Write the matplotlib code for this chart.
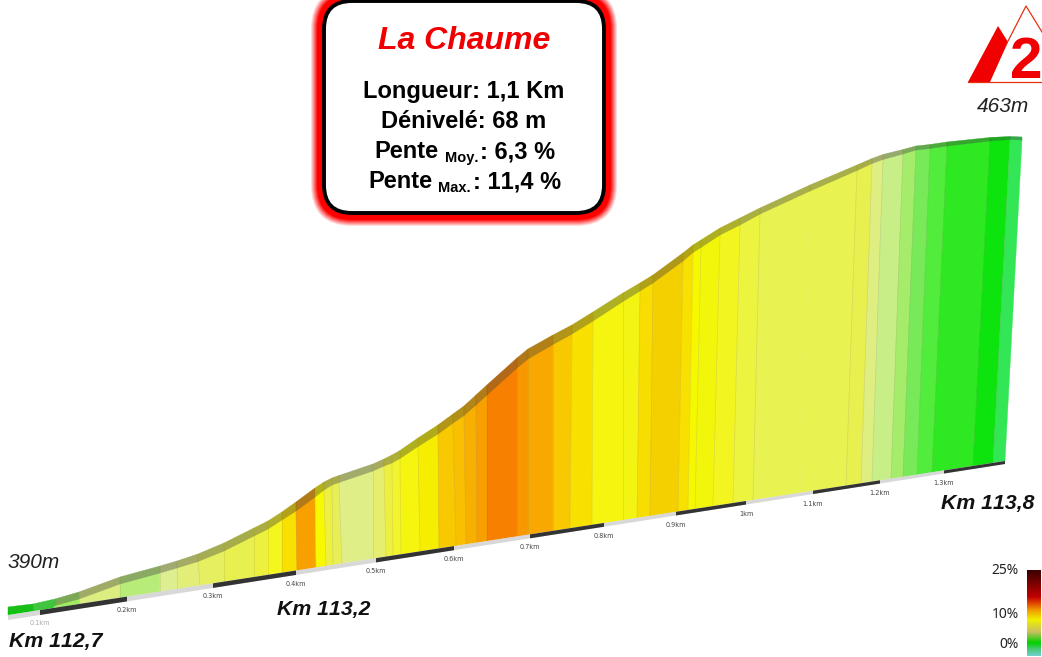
import numpy as np
import matplotlib
matplotlib.use('Agg')
import matplotlib.pyplot as plt
from matplotlib.patches import FancyBboxPatch, Polygon
from matplotlib.colors import LinearSegmentedColormap, to_rgb

plt.rcParams['font.family'] = ['Liberation Sans', 'DejaVu Sans']
plt.rcParams['text.kerning_factor'] = 6

# profile (image pixels), one entry per slope change
edge_top_x = [8, 33, 55, 79, 120, 160, 177, 198, 224, 254, 268, 282, 296, 315, 324, 332, 339, 373,
              384, 392, 400, 418, 438, 453, 464, 476, 487, 517, 528, 553, 572, 593, 623, 640, 653,
              683, 693, 701, 720, 740, 760, 810, 857, 872, 883, 903, 916, 930, 947, 990, 1010, 1022]
edge_base_x = [8, 33, 53, 79, 120, 160, 177, 200, 224, 254, 268, 282, 297, 316, 326, 333, 342, 373,
               386, 393, 401, 420, 439, 456, 466, 477, 487, 517, 528, 553, 570, 592, 623, 637, 650,
               678, 688, 695, 713, 733, 753, 800, 846, 861, 872, 891, 903, 917, 932, 973, 993, 1005]
edge_top_y = [607, 604, 599, 592, 577, 566, 561, 554, 543, 528, 521, 512, 502, 488, 482, 478, 475.5, 464,
              459, 455, 450.5, 438, 425, 414, 406, 395, 385, 358, 349, 335, 325, 312, 293, 283, 275,
              253, 245, 240, 228, 218, 208, 185, 165, 158.5, 154.5, 149.5, 146, 144.5, 142, 137.5, 136.5, 137]
edge_band = [6, 6, 6.5, 7, 7, 7, 7, 7.5, 8, 8, 8, 8, 9, 9, 8, 7, 7, 7,
             7, 8, 8, 8.5, 9, 9, 9.5, 10, 10, 10, 10, 9.5, 9, 9, 8.5, 8, 8,
             8, 7.5, 7.5, 7, 7, 6, 6, 5.5, 5, 5, 4.5, 4, 4, 4, 3.5, 3, 3]
seg_colors = ['#00c800', '#30d030', '#a0ea60', '#dcee80', '#b8ec78', '#dcee90', '#e2ee78', '#e5ef60',
              '#e8f050', '#eef040', '#f5f520', '#f8e000', '#f8a000', '#f8f800', '#eef040', '#e8ee55',
              '#e0ee88', '#e6ee70', '#eef040', '#f2f430', '#f5f510', '#f5ee00', '#f8c800', '#f8c000',
              '#f8b000', '#f8a000', '#f88000', '#f89800', '#f8a800', '#f8c800', '#f8e000', '#f5f510',
              '#f4f412', '#f8de00', '#f4d000', '#f8e000', '#f6f800', '#f2f60a', '#f2f520', '#ecf440',
              '#e8f250', '#e8f250', '#e8f050', '#dfee80', '#c8ee88', '#a5ec6a', '#78ea5a', '#52ec3c', '#2ee822',
              '#0de30d', '#33e655']

# road baseline
base_ends_x = [8, 1005]
base_ends_y = [615, 461]
strip_ends = [5, 3]

# kilometre marks
tick_x = [40, 127, 213, 296, 376, 454, 530, 604, 676, 746, 813, 880, 944]
tick_labels = ['0.1km', '0.2km', '0.3km', '0.4km', '0.5km', '0.6km', '0.7km', '0.8km',
               '0.9km', '1km', '1.1km', '1.2km', '1.3km']

# colour scale
scale_colors = ['#3a0000', '#c00000', '#e04000', '#f0a000', '#f0f000', '#c8c060', '#00d000', '#50c880', '#70d0d0']
scale_stops = [0, 0.31, 0.38, 0.47, 0.58, 0.72, 0.85, 0.93, 1]
scale_labels = ['25%', '10%', '0%']
scale_label_y = [570, 614, 644]


def base_y(x):
    return np.interp(x, base_ends_x, base_ends_y)


def strip(x0, x1, color):
    xs = np.array([x0, x1])
    th = np.interp(xs, base_ends_x, strip_ends)
    ax.add_patch(Polygon([(x0, base_y(x0)), (x1, base_y(x1)), (x1, base_y(x1) + th[1]), (x0, base_y(x0) + th[0])],
                         closed=True, fc=color, ec='none', zorder=3))


fig = plt.figure(figsize=(10.42, 6.57), dpi=100)
ax = fig.add_axes([0, 0, 1, 1])
ax.set_xlim(0, 1042)
ax.set_ylim(657, 0)
ax.axis('off')

# profile body and road surface
for i, c in enumerate(seg_colors):
    x0, x1 = edge_top_x[i], edge_top_x[i + 1]
    y0, y1 = edge_top_y[i], edge_top_y[i + 1]
    b0, b1 = edge_band[i], edge_band[i + 1]
    g0, g1 = edge_base_x[i], edge_base_x[i + 1]
    ax.fill([x0, x1, g1, g0], [y0 + b0, y1 + b1, base_y(g1), base_y(g0)], fc=c, ec=c, lw=0.3, zorder=1)
    f = 0.92 if i < 2 else 0.68
    dark = tuple(f * v for v in to_rgb(c))
    ax.fill([x0, x1, x1, x0], [y0, y1, y1 + b1, y0 + b0], fc=dark, ec=dark, lw=0.3, alpha=0.9, zorder=2)
    if i > 0 and c != seg_colors[i - 1]:
        ax.plot([x0, g0], [y0 + b0, base_y(g0)], color='#807040', lw=0.5, alpha=0.2, zorder=2)

# baseline strip, alternating
strip(base_ends_x[0], base_ends_x[1], '#d8d8d8')
for a, b in zip(tick_x[0::2], tick_x[1::2]):
    strip(a, b, '#333333')
strip(tick_x[-1], base_ends_x[1], '#333333')

for i, (x, lab) in enumerate(zip(tick_x, tick_labels)):
    ax.text(x, base_y(x) + 13, lab, fontsize=4.7, ha='center', va='center',
            family='DejaVu Sans', color='#aaaaaa' if i == 0 else '#444444', zorder=4)

# info box with red glow
box_x, box_y, box_w, box_h = 324, 1, 280, 212
for grow in np.arange(14, 0, -1.0):
    t = min(1, (14 - grow) / 7.0)
    col = (1, 1 - t, 1 - t)
    ax.add_patch(FancyBboxPatch((box_x - grow, box_y - grow), box_w + 2 * grow, box_h + 2 * grow,
                                boxstyle='round,pad=0,rounding_size=%g' % (28 + grow),
                                fc=col, ec='none', zorder=5))
ax.add_patch(FancyBboxPatch((box_x, box_y), box_w, box_h, boxstyle='round,pad=0,rounding_size=28',
                            fc='white', ec='black', lw=2.8, zorder=6))

ax.text(464, 49, 'La Chaume', color='#f00000', fontsize=23, style='italic', weight='bold',
        ha='center', va='baseline', zorder=7)
ax.text(464, 98, 'Longueur: 1,1 Km', fontsize=17, weight='bold', ha='center', va='baseline', zorder=7)
ax.text(464, 128, 'Dénivelé: 68 m', fontsize=17, weight='bold', ha='center', va='baseline', zorder=7)
ax.text(374, 158, 'Pente', fontsize=17, weight='bold', ha='left', va='baseline', zorder=7)
ax.text(445, 162, 'Moy.', fontsize=10.5, weight='bold', ha='left', va='baseline', zorder=7)
ax.text(480, 158, ': 6,3 %', fontsize=17, weight='bold', ha='left', va='baseline', zorder=7)
ax.text(368, 188, 'Pente', fontsize=17, weight='bold', ha='left', va='baseline', zorder=7)
ax.text(438, 192, 'Max.', fontsize=10.5, weight='bold', ha='left', va='baseline', zorder=7)
ax.text(473, 188, ': 11,4 %', fontsize=17, weight='bold', ha='left', va='baseline', zorder=7)

# category logo
ax.add_patch(Polygon([(968, 82), (998, 26), (1008, 42), (990, 82)], closed=True, fc='#f00000', ec='none'))
ax.plot([1006, 1026, 1050], [45, 6, 45], color='#e83010', lw=0.9)
ax.plot([968, 1042], [82, 82], color='#e83010', lw=0.9)
ax.text(1009.5, 78, '2', color='#f00000', fontsize=42, weight='bold', ha='left', va='baseline')

# altitude and km labels
ax.text(1003, 107, '463m', fontsize=15, style='italic', ha='center', va='center', color='#222222')
ax.text(8, 562, '390m', fontsize=15, style='italic', ha='left', va='center', color='#222222')
ax.text(9, 642, 'Km 112,7', fontsize=15.3, style='italic', weight='bold', ha='left', va='center', color='#111111')
ax.text(277, 610, 'Km 113,2', fontsize=15.3, style='italic', weight='bold', ha='left', va='center', color='#111111')
ax.text(941, 504, 'Km 113,8', fontsize=15.3, style='italic', weight='bold', ha='left', va='center', color='#111111')

# colour scale
cmap = LinearSegmentedColormap.from_list('pente', list(zip(scale_stops, scale_colors)))
ax.imshow(np.linspace(0, 1, 200).reshape(-1, 1), cmap=cmap, extent=(1027, 1041, 656, 570),
          aspect='auto', zorder=3)
ax.set_xlim(0, 1042)
ax.set_ylim(657, 0)
for lab, y in zip(scale_labels, scale_label_y):
    ax.text(1019, y, lab, fontsize=10, family='Noto Sans', ha='right', va='center', color='#222222')

fig.savefig('out.png', dpi=100)
